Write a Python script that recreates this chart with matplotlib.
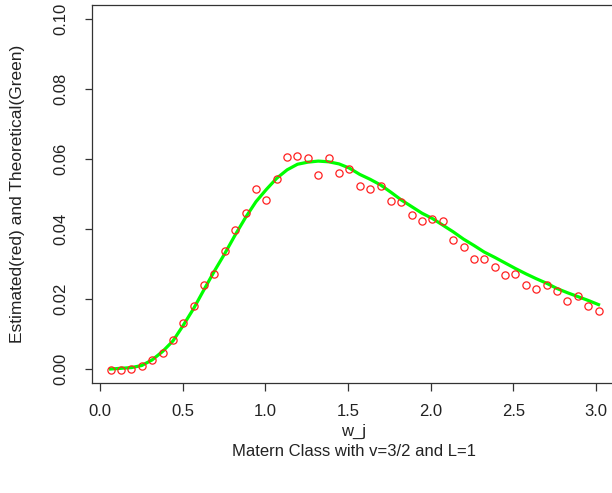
import numpy as np
import matplotlib
matplotlib.use('Agg')
import matplotlib.pyplot as plt

# Fourier frequencies w_j = 2*pi*j/100, j = 1..48
w_j = 2 * np.pi * np.arange(1, 49) / 100

# estimated spectral density (red circles)
estimated = [
    -0.0003, -0.0003, 0.0000, 0.0010, 0.0025, 0.0047, 0.0084, 0.0131,
    0.0179, 0.0240, 0.0272, 0.0336, 0.0397, 0.0447, 0.0515, 0.0484,
    0.0544, 0.0605, 0.0608, 0.0602, 0.0554, 0.0602, 0.0561, 0.0572,
    0.0523, 0.0515, 0.0523, 0.0481, 0.0476, 0.0441, 0.0424, 0.0428,
    0.0422, 0.0369, 0.0350, 0.0314, 0.0315, 0.0292, 0.0270, 0.0272,
    0.0239, 0.0229, 0.0239, 0.0223, 0.0194, 0.0209, 0.0179, 0.0166,
]

# theoretical spectral density (green line)
theoretical = [
    0.0000, 0.0002, 0.0004, 0.0010, 0.0026, 0.0050, 0.0080, 0.0125,
    0.0173, 0.0227, 0.0280, 0.0330, 0.0383, 0.0433, 0.0478, 0.0513,
    0.0545, 0.0569, 0.0585, 0.0591, 0.0594, 0.0592, 0.0586, 0.0574,
    0.0556, 0.0542, 0.0526, 0.0505, 0.0483, 0.0464, 0.0445, 0.0430,
    0.0411, 0.0392, 0.0371, 0.0353, 0.0334, 0.0319, 0.0303, 0.0287,
    0.0272, 0.0258, 0.0245, 0.0230, 0.0218, 0.0207, 0.0196, 0.0184,
]

plt.rcParams['font.family'] = ['Liberation Sans', 'DejaVu Sans']

W, H = 612, 493
fig = plt.figure(figsize=(W / 100, H / 100), dpi=100)
ax = fig.add_axes([92 / W, (H - 383) / H, 527 / W, 378 / H])

ax.plot(w_j, theoretical, color='#00ff00', lw=2.3, zorder=2)
ax.plot(w_j, estimated, 'o', mfc='none', mec='#ff2020', mew=0.9, ms=5.2, zorder=3)

ax.set_xlim(-0.05, 3.14)
ax.set_ylim(-0.004, 0.104)
ax.set_xticks(np.arange(0, 3.01, 0.5))
ax.set_yticks(np.arange(0, 0.101, 0.02))
ax.set_xticklabels(['%.1f' % v for v in np.arange(0, 3.01, 0.5)])
ax.set_yticklabels(['%.2f' % v for v in np.arange(0, 0.101, 0.02)],
                   rotation=90, va='center')
ax.tick_params(axis='x', length=5.8, width=0.9, pad=9, labelsize=12,
               color='#333333', labelcolor='#222222')
ax.tick_params(axis='y', length=5.2, width=0.9, pad=11.5, labelsize=12,
               color='#333333', labelcolor='#222222')
for s in ax.spines.values():
    s.set_linewidth(0.9)
    s.set_color('#333333')

fig.text(354 / W, 1 - 431 / H, 'w_j', ha='center', va='center',
         fontsize=12, color='#222222')
fig.text(354 / W, 1 - 451 / H, 'Matern Class with v=3/2 and L=1',
         ha='center', va='center', fontsize=12, color='#222222')
fig.text(18 / W, 1 - 194 / H, 'Estimated(red) and Theoretical(Green)',
         ha='center', va='center', rotation=90, fontsize=12.5, color='#222222')

fig.savefig('out.png', dpi=100)
